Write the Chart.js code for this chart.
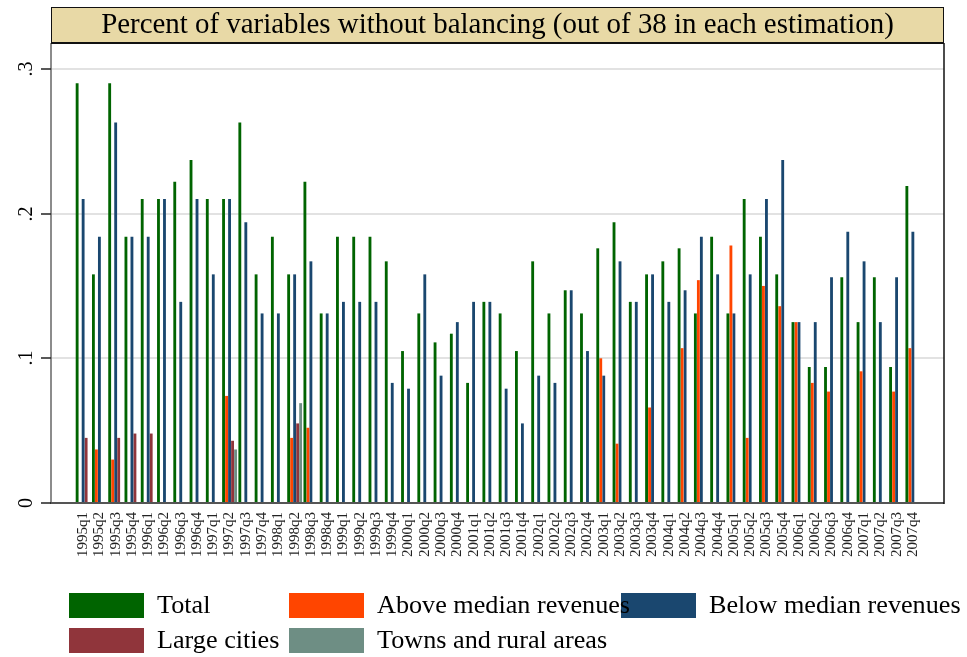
<!DOCTYPE html>
<html>
<head>
<meta charset="utf-8">
<script src="https://cdn.jsdelivr.net/npm/chart.js@4/dist/chart.umd.min.js"></script>
<style>
  html, body { margin: 0; padding: 0; background: #fff; }
</style>
</head>
<body>
<canvas id="c" width="967" height="657"></canvas>
<script>
// Datos (fracción de 38 variables sin balanceo)
const quarters = [
  '1995q1','1995q2','1995q3','1995q4','1996q1','1996q2','1996q3','1996q4',
  '1997q1','1997q2','1997q3','1997q4','1998q1','1998q2','1998q3','1998q4',
  '1999q1','1999q2','1999q3','1999q4','2000q1','2000q2','2000q3','2000q4',
  '2001q1','2001q2','2001q3','2001q4','2002q1','2002q2','2002q3','2002q4',
  '2003q1','2003q2','2003q3','2003q4','2004q1','2004q2','2004q3','2004q4',
  '2005q1','2005q2','2005q3','2005q4','2006q1','2006q2','2006q3','2006q4',
  '2007q1','2007q2','2007q3','2007q4'
];

const total = [
  0.290, 0.158, 0.290, 0.184, 0.210, 0.210, 0.222, 0.237,
  0.210, 0.210, 0.263, 0.158, 0.184, 0.158, 0.222, 0.131,
  0.184, 0.184, 0.184, 0.167, 0.105, 0.131, 0.111, 0.117,
  0.083, 0.139, 0.131, 0.105, 0.167, 0.131, 0.147, 0.131,
  0.176, 0.194, 0.139, 0.158, 0.167, 0.176, 0.131, 0.184,
  0.131, 0.210, 0.184, 0.158, 0.125, 0.094, 0.094, 0.156,
  0.125, 0.156, 0.094, 0.219
];

const aboveMedian = [
  0, 0.037, 0.030, 0, 0, 0, 0, 0,
  0, 0.074, 0, 0, 0, 0.045, 0.052, 0,
  0, 0, 0, 0, 0, 0, 0, 0,
  0, 0, 0, 0, 0, 0, 0, 0,
  0.100, 0.041, 0, 0.066, 0, 0.107, 0.154, 0,
  0.178, 0.045, 0.150, 0.136, 0.125, 0.083, 0.077, 0,
  0.091, 0, 0.077, 0.107
];

const belowMedian = [
  0.210, 0.184, 0.263, 0.184, 0.184, 0.210, 0.139, 0.210,
  0.158, 0.210, 0.194, 0.131, 0.131, 0.158, 0.167, 0.131,
  0.139, 0.139, 0.139, 0.083, 0.079, 0.158, 0.088, 0.125,
  0.139, 0.139, 0.079, 0.055, 0.088, 0.083, 0.147, 0.105,
  0.088, 0.167, 0.139, 0.158, 0.139, 0.147, 0.184, 0.158,
  0.131, 0.158, 0.210, 0.237, 0.125, 0.125, 0.156, 0.1875,
  0.167, 0.125, 0.156, 0.1875
];

const largeCities = [
  0.045, 0, 0.045, 0.048, 0.048, 0, 0, 0,
  0, 0.043, 0, 0, 0, 0.055, 0, 0,
  0, 0, 0, 0, 0, 0, 0, 0,
  0, 0, 0, 0, 0, 0, 0, 0,
  0, 0, 0, 0, 0, 0, 0, 0,
  0, 0, 0, 0, 0, 0, 0, 0,
  0, 0, 0, 0
];

const townsRural = [
  0, 0, 0, 0, 0, 0, 0, 0,
  0, 0.037, 0, 0, 0, 0.069, 0, 0,
  0, 0, 0, 0, 0, 0, 0, 0,
  0, 0, 0, 0, 0, 0, 0, 0,
  0, 0, 0, 0, 0, 0, 0, 0,
  0, 0, 0, 0, 0, 0, 0, 0,
  0, 0, 0, 0
];

const yTicks = [0, 0.1, 0.2, 0.3];
const yTickLabels = ['0', '.1', '.2', '.3'];
const titulo = 'Percent of variables without balancing (out of 38 in each estimation)';

const SERIF = '"Liberation Serif", "DejaVu Serif", serif';
const marco = { L: 51, R: 944, T: 43 };

function fitSize(ctx, text, width) {
  ctx.font = '100px ' + SERIF;
  return 100 * width / ctx.measureText(text).width;
}

const decor = {
  id: 'decor',
  beforeDatasetsDraw(chart) {
    const ctx = chart.ctx, y = chart.scales.y;
    ctx.save();
    ctx.strokeStyle = '#e2e2e2';
    ctx.lineWidth = 2;
    yTicks.forEach(v => {
      if (v === 0) return;
      const py = Math.round(y.getPixelForValue(v));
      ctx.beginPath(); ctx.moveTo(marco.L, py); ctx.lineTo(marco.R, py); ctx.stroke();
    });
    ctx.restore();
  },
  afterDraw(chart) {
    const ctx = chart.ctx, y = chart.scales.y;
    const bottom = chart.chartArea.bottom;
    ctx.save();

    // marco del area
    ctx.strokeStyle = '#666'; ctx.lineWidth = 1.5;
    ctx.beginPath(); ctx.moveTo(marco.L, marco.T); ctx.lineTo(marco.L, bottom); ctx.stroke();
    ctx.strokeStyle = '#555'; ctx.lineWidth = 2;
    ctx.beginPath(); ctx.moveTo(marco.L - 1, bottom); ctx.lineTo(marco.R, bottom); ctx.stroke();
    ctx.strokeStyle = '#111'; ctx.lineWidth = 1.5;
    ctx.beginPath(); ctx.moveTo(marco.R, marco.T); ctx.lineTo(marco.R, bottom + 1); ctx.stroke();

    // caja del titulo
    ctx.fillStyle = '#e8d9a6';
    ctx.fillRect(marco.L, 7, marco.R - marco.L, marco.T - 7);
    ctx.strokeStyle = '#111'; ctx.lineWidth = 1;
    ctx.strokeRect(marco.L + 0.5, 7.5, marco.R - marco.L - 1, marco.T - 7);
    ctx.lineWidth = 2;
    ctx.beginPath(); ctx.moveTo(marco.L, marco.T); ctx.lineTo(marco.R, marco.T); ctx.stroke();
    const ts = fitSize(ctx, titulo, 793);
    ctx.font = ts.toFixed(1) + 'px ' + SERIF;
    ctx.fillStyle = '#000';
    ctx.textAlign = 'center'; ctx.textBaseline = 'middle';
    ctx.fillText(titulo, (marco.L + marco.R) / 2, 25);

    // eje y: marcas y etiquetas giradas
    ctx.strokeStyle = '#222'; ctx.lineWidth = 1.5;
    ctx.font = '20px ' + SERIF;
    yTicks.forEach((v, i) => {
      const py = Math.round(y.getPixelForValue(v));
      ctx.beginPath(); ctx.moveTo(41, py); ctx.lineTo(marco.L, py); ctx.stroke();
      ctx.save();
      ctx.translate(27, py);
      ctx.rotate(-Math.PI / 2);
      ctx.fillText(yTickLabels[i], 0, 0);
      ctx.restore();
    });

    // leyenda
    const items = [[0, 69, 593], [1, 289, 593], [2, 621, 593], [3, 69, 628], [4, 289, 628]];
    items.forEach(([d, x, yy]) => {
      ctx.fillStyle = chart.data.datasets[d].backgroundColor;
      ctx.fillRect(x, yy, 75, 25);
    });
    const ls = fitSize(ctx, 'Below median revenues', 252);
    ctx.font = ls.toFixed(1) + 'px ' + SERIF;
    ctx.fillStyle = '#000';
    ctx.textAlign = 'left';
    items.forEach(([d, x, yy]) => {
      ctx.fillText(chart.data.datasets[d].label, x + 88, yy + 13);
    });
    ctx.restore();
  }
};

const mk = (label, data, color) => ({
  label, data, backgroundColor: color, borderWidth: 0,
  categoryPercentage: 0.922, barPercentage: 0.95
});

new Chart(document.getElementById('c'), {
  type: 'bar',
  data: {
    labels: quarters,
    datasets: [
      mk('Total', total, '#006400'),
      mk('Above median revenues', aboveMedian, '#ff4500'),
      mk('Below median revenues', belowMedian, '#1a476f'),
      mk('Large cities', largeCities, '#90353b'),
      mk('Towns and rural areas', townsRural, '#6e8e84')
    ]
  },
  options: {
    responsive: false,
    devicePixelRatio: 1,
    animation: false,
    layout: { padding: { left: 75, right: 46, top: 45, bottom: 0 } },
    plugins: {
      legend: { display: false },
      title: { display: false },
      tooltip: { enabled: false }
    },
    scales: {
      x: {
        grid: { display: false, drawTicks: false },
        border: { display: false },
        ticks: {
          autoSkip: false, minRotation: 90, maxRotation: 90, padding: 9,
          color: '#222', font: { family: SERIF, size: 15 }
        },
        afterFit: s => { s.height = 154; }
      },
      y: {
        display: false,
        min: 0, max: 0.3165
      }
    }
  },
  plugins: [decor]
});
</script>
</body>
</html>
